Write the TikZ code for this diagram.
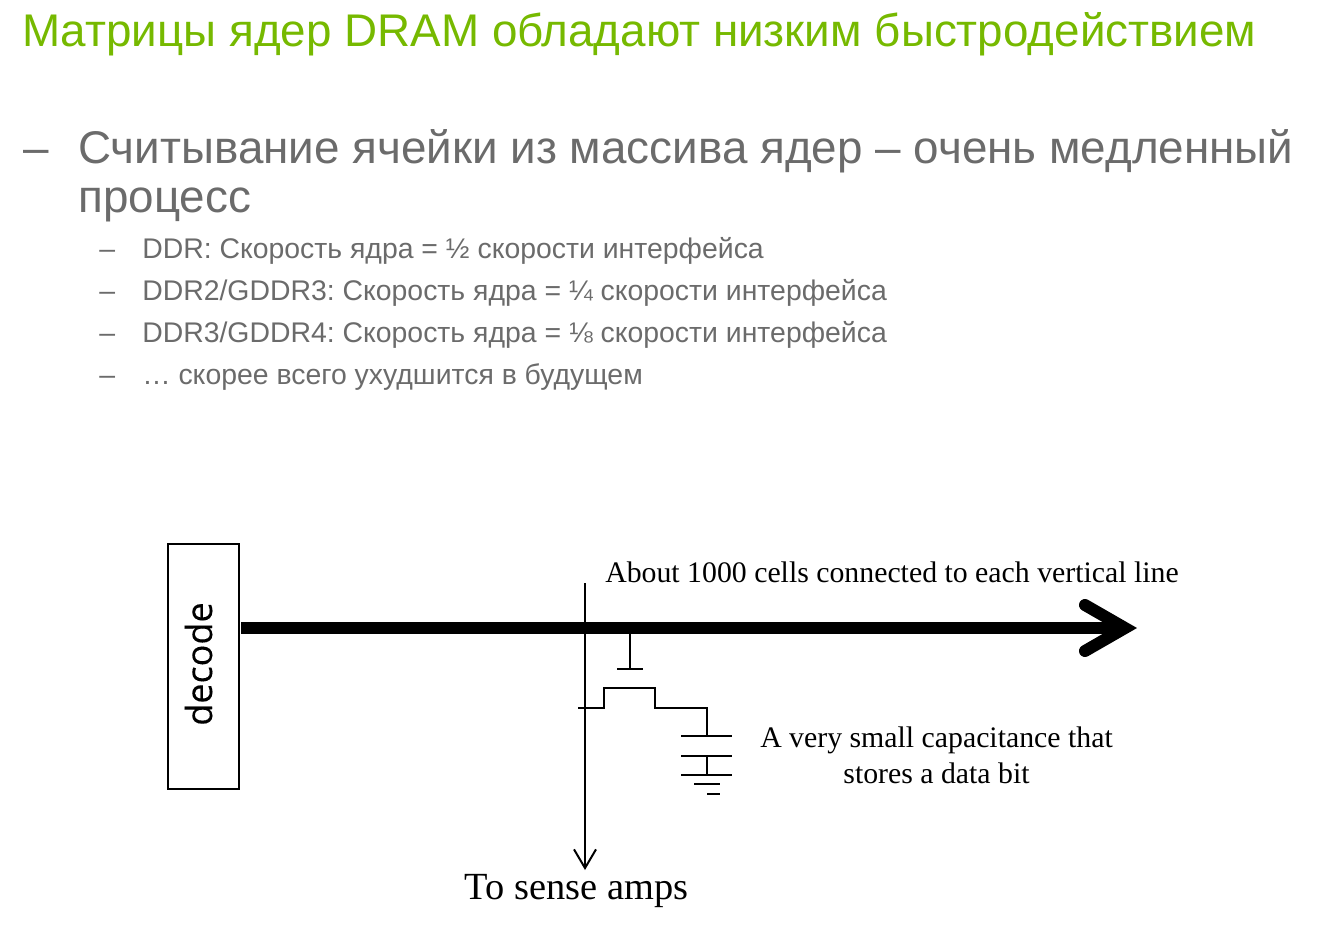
\documentclass[tikz,border=0pt]{standalone}
\usepackage{fontspec}
\setmainfont{Liberation Sans}
\newfontfamily\serifface{Liberation Serif}
\newfontfamily\decodeface[FakeBold=0.25]{Open Sans}
\usetikzlibrary{arrows.meta,positioning}
\definecolor{titlegreen}{HTML}{76B900}
\definecolor{bodygray}{HTML}{6B6B6B}
\frenchspacing

\begin{document}
\begin{tikzpicture}[x=0.75pt,y=-0.75pt,
  ttl/.style={anchor=base west,inner sep=0pt,text=titlegreen,font=\fontsize{34.35}{38}\selectfont},
  bigl/.style={anchor=base west,inner sep=0pt,text=bodygray,font=\fontsize{34.35}{38}\selectfont},
  smal/.style={anchor=base west,inner sep=0pt,text=bodygray,font=\fontsize{21.3}{24}\selectfont},
  lab/.style={inner sep=0pt,align=center,font=\serifface\fontsize{22.35}{27}\selectfont},
  wire/.style={line width=1.5pt}]
\useasboundingbox (0,0) rectangle (1324,933);
\node[ttl] (title) at (22,46) {Матрицы ядер DRAM обладают низким быстродействием};
\node[bigl] (dash) at (23,163) {–};
\node[bigl] (line1) at (78,163) {Считывание ячейки из массива ядер – очень медленный};
\node[bigl] (line2) at (78,212) {процесс};
\foreach \y/\txt/\nm in {258/{DDR: Скорость ядра = ½ скорости интерфейса}/a,
  300/{DDR2/GDDR3: Скорость ядра = ¼ скорости интерфейса}/b,
  342/{DDR3/GDDR4: Скорость ядра = ⅛ скорости интерфейса}/c,
  384/{… скорее всего ухудшится в будущем}/d}{
  \node[smal] (dash\nm) at (99,\y) {–};
  \node[smal] (item\nm) at (142,\y) {\txt};
}
% decoder and lines
\node[draw,line width=1.5pt,minimum width=53.25pt,minimum height=183.75pt,inner sep=0pt] (dec) at (203.5,666.5) {};
\node[rotate=90,inner sep=0pt,font=\decodeface\fontsize{27}{32}\selectfont] (dectxt) at (198.5,664) {decode};
\coordinate (wl0) at (241,628);
\coordinate (wl1) at (1137,628);
\draw[line width=9pt,-{Straight Barb[length=30pt,width=34.5pt,line width=9pt,line cap=round,line join=miter]}] (wl0)--(wl1);
\coordinate (bl0) at (585,583);
\coordinate (bl1) at (585,870);
\draw[wire,-{Straight Barb[length=14pt,width=16.5pt,line width=1.5pt]}] (bl0)--(bl1);
% transistor
\coordinate (g0) at (630,628);
\coordinate (g1) at (630,669);
\coordinate (gl) at (617,669);
\coordinate (gr) at (643,669);
\draw[wire] (g0)--(g1);
\draw[wire] (gl)--(gr);
\coordinate (s0) at (578,708);
\coordinate (s1) at (604,708);
\coordinate (s2) at (604,688);
\coordinate (s3) at (655,688);
\coordinate (s4) at (655,708);
\coordinate (s5) at (707,708);
\coordinate (s6) at (707,736);
\draw[wire] (s0)--(s1)--(s2)--(s3)--(s4)--(s5)--(s6);
% capacitor
\coordinate (c1l) at (681,736);
\coordinate (c1r) at (732,736);
\coordinate (c2l) at (681,756);
\coordinate (c2r) at (732,756);
\coordinate (c3l) at (681,775);
\coordinate (c3r) at (732,775);
\coordinate (c2m) at (707,756);
\coordinate (c3m) at (707,775);
\coordinate (c4l) at (694,784);
\coordinate (c4r) at (720,784);
\coordinate (c5l) at (707,794);
\coordinate (c5r) at (720,794);
\draw[wire] (c1l)--(c1r);
\draw[wire] (c2l)--(c2r);
\draw[wire] (c3l)--(c3r);
\draw[wire] (c2m)--(c3m);
\draw[wire] (c4l)--(c4r);
\draw[wire] (c5l)--(c5r);
\node[lab,anchor=base west] (lbl1) at (605,582) {About 1000 cells connected to each vertical line};
\node[lab] (lbl2) at (936.5,755) {A very small capacitance that\\stores a data bit};
\node[lab,anchor=base,font=\serifface\fontsize{28.8}{32}\selectfont] (lbl3) at (576.5,899) {To sense amps};
\end{tikzpicture}
\end{document}
